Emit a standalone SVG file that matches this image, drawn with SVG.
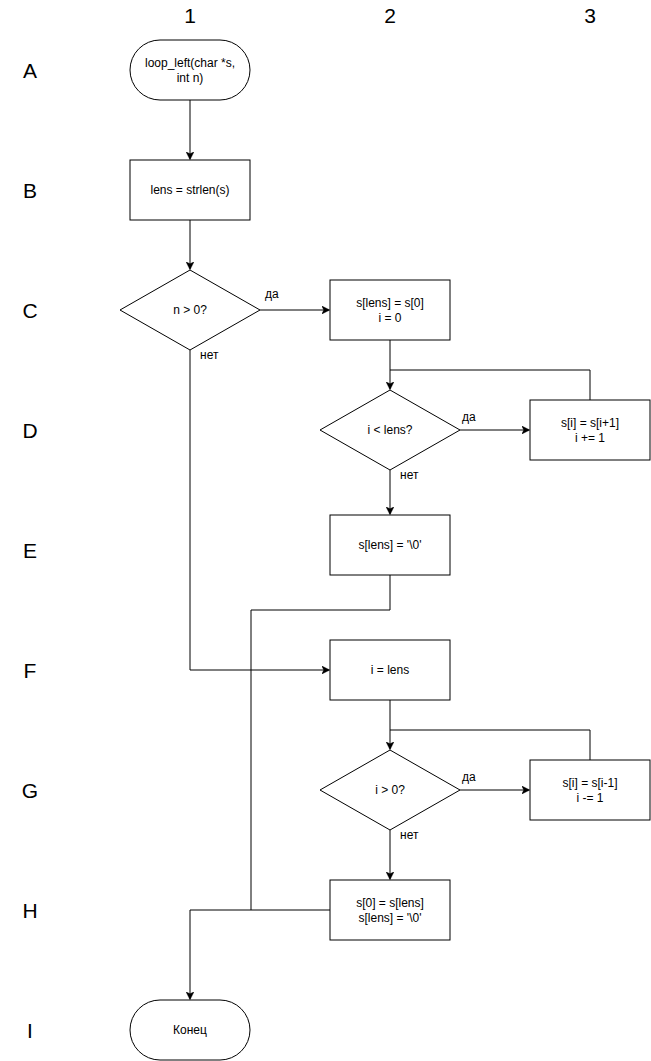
<svg xmlns="http://www.w3.org/2000/svg" width="651" height="1061" viewBox="0 0 651 1061">
  <style>
    .shape { fill: #ffffff; stroke: #000000; stroke-width: 1; }
    .edge { fill: none; stroke: #000000; stroke-width: 1; }
    .label { font-family: "Liberation Sans", Arial, sans-serif; font-size: 12px; fill: #000000; text-anchor: middle; }
    .edge-label { font-family: "Liberation Sans", Arial, sans-serif; font-size: 12px; fill: #000000; }
    .grid { font-family: "Liberation Sans", Arial, sans-serif; font-size: 21px; fill: #000000; text-anchor: middle; }
  </style>
  <defs>
    <marker id="arrow" viewBox="0 0 10 10" refX="9" refY="5" markerWidth="8" markerHeight="8" markerUnits="userSpaceOnUse" orient="auto">
      <path d="M0,0 L10,5 L0,10 L2.5,5 Z" fill="#000000" stroke="#000000" stroke-width="0.5"/>
    </marker>
  </defs>
  <rect width="651" height="1061" fill="#ffffff"/>

  <!-- column and row grid labels -->
  <g id="grid">
    <text class="grid" x="190" y="23">1</text>
    <text class="grid" x="390" y="23">2</text>
    <text class="grid" x="590" y="23">3</text>
    <text class="grid" x="30" y="78">A</text>
    <text class="grid" x="30" y="198">B</text>
    <text class="grid" x="30" y="318">C</text>
    <text class="grid" x="30" y="438">D</text>
    <text class="grid" x="30" y="558">E</text>
    <text class="grid" x="30" y="678">F</text>
    <text class="grid" x="30" y="798">G</text>
    <text class="grid" x="30" y="918">H</text>
    <text class="grid" x="30" y="1038">I</text>
  </g>

  <!-- connectors -->
  <g id="connectors">
    <path class="edge" d="M190,100 L190,159" marker-end="url(#arrow)"/>
    <path class="edge" d="M190,220 L190,269" marker-end="url(#arrow)"/>
    <path class="edge" d="M260,310 L329,310" marker-end="url(#arrow)"/>
    <path class="edge" d="M190,350 L190,670 L329,670" marker-end="url(#arrow)"/>
    <path class="edge" d="M390,340 L390,389" marker-end="url(#arrow)"/>
    <path class="edge" d="M460,430 L529,430" marker-end="url(#arrow)"/>
    <path class="edge" d="M590,400 L590,370 L390,370"/>
    <path class="edge" d="M390,470 L390,514" marker-end="url(#arrow)"/>
    <path class="edge" d="M390,575 L390,610 L251,610 L251,910"/>
    <path class="edge" d="M390,700 L390,749" marker-end="url(#arrow)"/>
    <path class="edge" d="M460,790 L529,790" marker-end="url(#arrow)"/>
    <path class="edge" d="M590,760 L590,730 L390,730"/>
    <path class="edge" d="M390,830 L390,879" marker-end="url(#arrow)"/>
    <path class="edge" d="M330,910 L190,910 L190,999" marker-end="url(#arrow)"/>
    <text class="edge-label" x="265" y="298">да</text>
    <text class="edge-label" x="200" y="359">нет</text>
    <text class="edge-label" x="462" y="421">да</text>
    <text class="edge-label" x="400" y="479">нет</text>
    <text class="edge-label" x="462" y="781">да</text>
    <text class="edge-label" x="400" y="839">нет</text>
  </g>

  <g id="start">
    <rect class="shape" x="130" y="40" width="120" height="60" rx="30" ry="30"/>
    <text class="label" x="190" y="67">loop_left(char *s,</text>
    <text class="label" x="190" y="82">int n)</text>
  </g>

  <g id="lens-assign">
    <rect class="shape" x="130" y="160" width="120" height="60"/>
    <text class="label" x="190" y="194">lens = strlen(s)</text>
  </g>

  <g id="check-n">
    <polygon class="shape" points="190,270 260,310 190,350 120,310"/>
    <text class="label" x="190" y="314">n &gt; 0?</text>
  </g>

  <g id="save-first">
    <rect class="shape" x="330" y="280" width="120" height="60"/>
    <text class="label" x="390" y="307">s[lens] = s[0]</text>
    <text class="label" x="390" y="322">i = 0</text>
  </g>

  <g id="check-i-lens">
    <polygon class="shape" points="390,390 460,430 390,470 320,430"/>
    <text class="label" x="390" y="434">i &lt; lens?</text>
  </g>

  <g id="shift-left">
    <rect class="shape" x="530" y="400" width="120" height="60"/>
    <text class="label" x="590" y="427">s[i] = s[i+1]</text>
    <text class="label" x="590" y="442">i += 1</text>
  </g>

  <g id="terminate-left">
    <rect class="shape" x="330" y="515" width="120" height="60"/>
    <text class="label" x="390" y="549">s[lens] = '\0'</text>
  </g>

  <g id="i-assign">
    <rect class="shape" x="330" y="640" width="120" height="60"/>
    <text class="label" x="390" y="674">i = lens</text>
  </g>

  <g id="check-i-zero">
    <polygon class="shape" points="390,750 460,790 390,830 320,790"/>
    <text class="label" x="390" y="794">i &gt; 0?</text>
  </g>

  <g id="shift-right">
    <rect class="shape" x="530" y="760" width="120" height="60"/>
    <text class="label" x="590" y="787">s[i] = s[i-1]</text>
    <text class="label" x="590" y="802">i -= 1</text>
  </g>

  <g id="restore-first">
    <rect class="shape" x="330" y="880" width="120" height="60"/>
    <text class="label" x="390" y="907">s[0] = s[lens]</text>
    <text class="label" x="390" y="922">s[lens] = '\0'</text>
  </g>

  <g id="end">
    <rect class="shape" x="130" y="1000" width="120" height="60" rx="30" ry="30"/>
    <text class="label" x="190" y="1034">Конец</text>
  </g>
</svg>
